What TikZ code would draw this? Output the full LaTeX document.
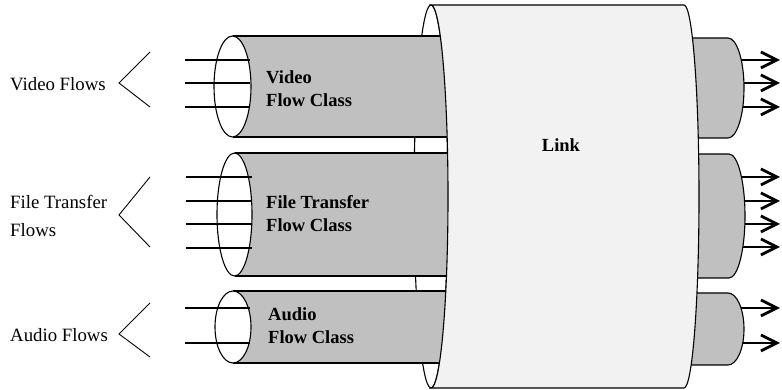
\documentclass[tikz,border=0pt]{standalone}
\usepackage{fontspec}
\setmainfont{Liberation Serif}
\usetikzlibrary{arrows.meta}
\definecolor{tubegray}{HTML}{C0C0C0}
\definecolor{linkfill}{HTML}{F2F2F2}
\begin{document}
\begin{tikzpicture}[x=1pt,y=1pt,
  outline/.style={line width=1.1pt},
  flow/.style={line width=2.6pt},
  outflow/.style={line width=2.6pt,-{Straight Barb[length=16pt,width=16pt,line width=2.8pt]}},
  bracket/.style={line width=0.9pt},
  lbl/.style={inner sep=0pt,anchor=base west,font=\fontsize{18.8}{22}\selectfont},
  blbl/.style={inner sep=0pt,anchor=base west,font=\fontsize{18.5}{22}\selectfont\bfseries}]
\useasboundingbox (0,0) rectangle (782,390);

% hidden (back) rim of the link's entry face
\draw[outline,fill=white] (431,193.5) ellipse[x radius=17,y radius=191.5];

% input flow-class tubes: body, then open mouth
\foreach \cx/\cy/\rx/\ry in {232.5/303.5/18.5/50.5, 234.5/175.5/17.5/61.5, 233/63/18/36}{
  \fill[tubegray] (\cx,\cy-\ry) rectangle (460,\cy+\ry);
  \draw[outline] (\cx,\cy+\ry) -- (460,\cy+\ry) (\cx,\cy-\ry) -- (460,\cy-\ry);
  \draw[outline,fill=white] (\cx,\cy) ellipse[x radius=\rx,y radius=\ry];
}

% incoming flows
\foreach \y [count=\i] in {330,307,283}{
  \coordinate (vs\i) at (185,\y); \coordinate (ve\i) at (250,\y);
  \draw[flow] (vs\i) -- (ve\i);
}
\foreach \y [count=\i] in {213,189,166,142}{
  \coordinate (fs\i) at (186,\y); \coordinate (fe\i) at (252,\y);
  \draw[flow] (fs\i) -- (fe\i);
}
\foreach \y [count=\i] in {82,47}{
  \coordinate (as\i) at (185,\y); \coordinate (ae\i) at (250,\y);
  \draw[flow] (as\i) -- (ae\i);
}

% outgoing flows
\foreach \y [count=\i] in {330,307,283}{
  \coordinate (vo\i) at (720,\y); \coordinate (vt\i) at (780,\y);
  \draw[outflow] (vo\i) -- (vt\i);
}
\foreach \y [count=\i] in {213,189,166,143}{
  \coordinate (fo\i) at (720,\y); \coordinate (ft\i) at (780,\y);
  \draw[outflow] (fo\i) -- (ft\i);
}
\foreach \y [count=\i] in {82,47}{
  \coordinate (ao\i) at (720,\y); \coordinate (at\i) at (780,\y);
  \draw[outflow] (ao\i) -- (at\i);
}

% output tube stubs leaving the link
\foreach \cx/\cy/\rx/\ry in {728/302/16/50, 729/174/16/62, 728/61/16/36}{
  \fill[tubegray] (675,\cy+\ry) -- (\cx,\cy+\ry)
     arc[start angle=90,end angle=-90,x radius=\rx,y radius=\ry] -- (675,\cy-\ry) -- cycle;
  \draw[outline] (675,\cy+\ry) -- (\cx,\cy+\ry)
     arc[start angle=90,end angle=-90,x radius=\rx,y radius=\ry] -- (675,\cy-\ry);
}

% the link cylinder
\draw[outline,fill=linkfill] (431,385) -- (684,385)
   arc[start angle=90,end angle=-90,x radius=15,y radius=191.5]
   -- (431,2)
   arc[start angle=-90,end angle=90,x radius=17,y radius=191.5] -- cycle;
\node[inner sep=0pt,anchor=base,font=\fontsize{18.5}{22}\selectfont\bfseries] (link) at (561,238) {Link};

% flow-class labels
\node[blbl] (vc1) at (266,306) {Video};
\node[blbl] (vc2) at (266,283) {Flow Class};
\node[blbl] (fc1) at (266,181) {File Transfer};
\node[blbl] (fc2) at (266,158) {Flow Class};
\node[blbl] (ac1) at (268,69) {Audio};
\node[blbl] (ac2) at (268,46) {Flow Class};

% source labels and brackets
\node[lbl] (vf) at (10,299) {Video Flows};
\node[lbl] (ff1) at (10,181) {File Transfer};
\node[lbl] (ff2) at (10,153) {Flows};
\node[lbl] (af) at (10,48) {Audio Flows};

\coordinate (vb1) at (150,338); \coordinate (vb2) at (119,307); \coordinate (vb3) at (150,283);
\coordinate (fb1) at (150,213); \coordinate (fb2) at (119,175); \coordinate (fb3) at (150,143);
\coordinate (ab1) at (150,87);  \coordinate (ab2) at (119,56);  \coordinate (ab3) at (150,33);
\draw[bracket] (vb1) -- (vb2) -- (vb3);
\draw[bracket] (fb1) -- (fb2) -- (fb3);
\draw[bracket] (ab1) -- (ab2) -- (ab3);
\end{tikzpicture}
\end{document}
